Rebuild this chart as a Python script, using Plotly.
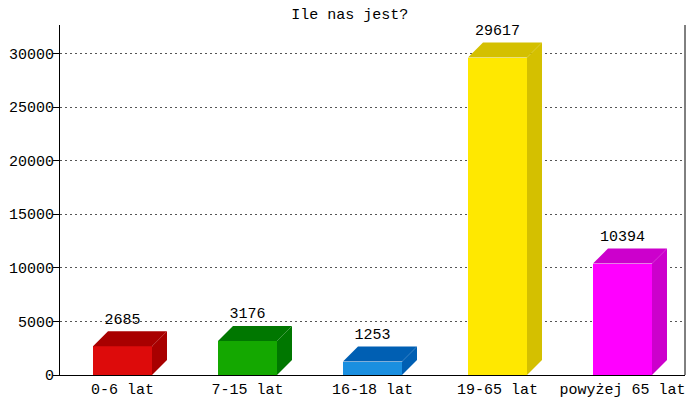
import plotly.graph_objects as go

categories = ["0-6 lat", "7-15 lat", "16-18 lat", "19-65 lat", "powyżej 65 lat"]
values = [2685, 3176, 1253, 29617, 10394]
front_colors = ["#dd0b0b", "#14a800", "#1a8fe0", "#ffe800", "#ff00ff"]
dark_colors = ["#a80000", "#007700", "#005fb3", "#d4c000", "#cc00cc"]
y_ticks = [0, 5000, 10000, 15000, 20000, 25000, 30000]

y_max = 32650
plot_h = 350  # px
bar_w = 0.472
depth_x = 0.12
depth_y = 15 * y_max / plot_h
font_name = "Liberation Mono"

fig = go.Figure()

for i, (v, fc, dc) in enumerate(zip(values, front_colors, dark_colors)):
    x0, x1 = i - bar_w / 2, i + bar_w / 2
    # front face
    fig.add_trace(go.Bar(x=[i], y=[v], width=bar_w, marker=dict(color=fc, line=dict(width=0))))
    # top face
    fig.add_trace(go.Scatter(
        x=[x0, x1, x1 + depth_x, x0 + depth_x, x0],
        y=[v, v, v + depth_y, v + depth_y, v],
        fill="toself", fillcolor=dc, mode="none"))
    # side face
    fig.add_trace(go.Scatter(
        x=[x1, x1 + depth_x, x1 + depth_x, x1, x1],
        y=[0, depth_y, v + depth_y, v, 0],
        fill="toself", fillcolor=dc, mode="none"))

# value labels
fig.add_trace(go.Scatter(
    x=list(range(len(values))),
    y=[v + depth_y * 1.25 for v in values],
    text=[str(v) for v in values],
    mode="text", textposition="top center",
    textfont=dict(family=font_name, size=15, color="black")))

# page has an 8px body margin, so the figure is a bit smaller than the window
fig.update_layout(
    width=692, height=392,
    margin=dict(l=52, r=15, t=17, b=25, autoexpand=False),
    showlegend=False,
    hovermode=False,
    plot_bgcolor="#fff",
    paper_bgcolor="#fff",
    font=dict(family=font_name, size=15, color="black"),
    title=dict(text="Ile nas jest?", x=0.494, xanchor="center", y=1.0, yanchor="top",
               pad=dict(t=0, b=0), font=dict(family=font_name, size=15, color="black")),
    bargap=0,
)
fig.update_xaxes(
    range=[-0.5, len(categories) - 0.5],
    tickvals=list(range(len(categories))),
    ticktext=categories,
    showgrid=False, zeroline=False,
    showline=True, linecolor="black", linewidth=1,
    ticks="", automargin=False, fixedrange=True,
)
fig.update_yaxes(
    range=[0, y_max],
    tickvals=y_ticks,
    ticktext=[str(t) for t in y_ticks],
    showgrid=True, gridcolor="#555", griddash="2px,3px", gridwidth=1,
    zeroline=False,
    showline=True, linecolor="black", linewidth=1,
    ticks="outside", ticklen=6, tickcolor="black",
    ticklabelstandoff=-4,
    automargin=False, fixedrange=True,
)
# right border line
fig.add_shape(type="line", xref="paper", yref="paper", x0=1, x1=1, y0=0, y1=1,
              line=dict(color="black", width=1))

fig.write_html("out.html")
